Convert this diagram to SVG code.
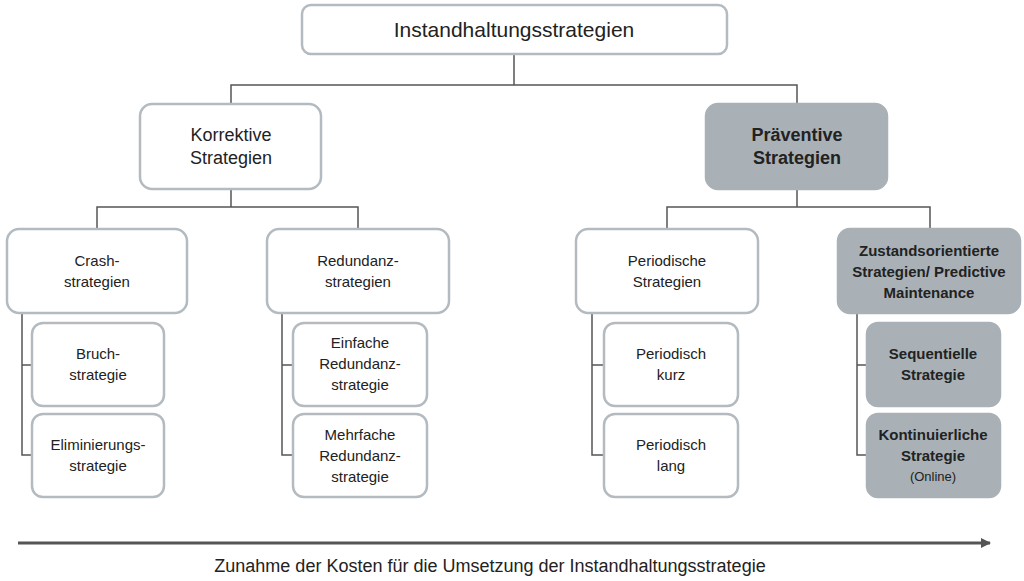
<svg xmlns="http://www.w3.org/2000/svg" width="1024" height="581" viewBox="0 0 1024 581">
<style>
.w{fill:#fff;stroke:#b3bbc0;stroke-width:2.5}
.g{fill:#a9b1b6;stroke:#a9b1b6;stroke-width:2.5}
text{font-family:"Liberation Sans",Arial,sans-serif;fill:#222;text-anchor:middle}
.t{font-size:15px}
.b{font-size:15px;font-weight:bold}
.c{fill:none;stroke:#555;stroke-width:1.5}
</style>
<defs><marker id="ah" markerWidth="10" markerHeight="10" refX="9" refY="5" orient="auto" markerUnits="userSpaceOnUse"><path d="M0,0 L10,5 L0,10 Z" fill="#555"/></marker></defs>
<g id="connectors" class="c">
<path d="M514,54 V85 M231,104 V85 H797 V104"/>
<path d="M231,189 V207 M97,229 V207 H358 V229"/>
<path d="M797,189 V207 M667,229 V207 H930 V229"/>
<path d="M22,313 V455 H32 M22,365 H32"/>
<path d="M282,313 V455 H293 M282,365 H293"/>
<path d="M592,313 V455 H604 M592,365 H604"/>
<path d="M857,313 V455 H867 M857,365 H867"/>
<path d="M18,543 H990" stroke-width="3" marker-end="url(#ah)"/>
</g>
<g id="root"><rect class="w" x="302" y="5" width="425" height="49" rx="9"/><text x="514" y="37" style="font-size:21px">Instandhaltungsstrategien</text></g>
<g id="korrektiv"><rect class="w" x="140" y="104" width="181" height="85" rx="12"/><text x="231" y="141" style="font-size:18px">Korrektive</text><text x="231" y="164" style="font-size:18px">Strategien</text></g>
<g id="praeventiv"><rect class="g" x="706" y="104" width="181" height="85" rx="12"/><text x="797" y="141" style="font-size:18px;font-weight:bold">Präventive</text><text x="797" y="164" style="font-size:18px;font-weight:bold">Strategien</text></g>
<g id="crash"><rect class="w" x="7" y="229" width="180" height="84" rx="12"/><text class="t" x="97" y="266">Crash-</text><text class="t" x="97" y="287">strategien</text></g>
<g id="redundanz"><rect class="w" x="267" y="229" width="182" height="84" rx="12"/><text class="t" x="358" y="266">Redundanz-</text><text class="t" x="358" y="287">strategien</text></g>
<g id="periodisch"><rect class="w" x="576" y="229" width="182" height="84" rx="12"/><text class="t" x="667" y="266">Periodische</text><text class="t" x="667" y="287">Strategien</text></g>
<g id="zustand"><rect class="g" x="838" y="229" width="182" height="84" rx="12"/><text class="b" x="929" y="256">Zustandsorientierte</text><text class="b" x="929" y="277">Strategien/ Predictive</text><text class="b" x="929" y="298">Maintenance</text></g>
<g id="bruch"><rect class="w" x="32" y="323" width="132" height="83" rx="11"/><text class="t" x="98" y="359">Bruch-</text><text class="t" x="98" y="380">strategie</text></g>
<g id="elim"><rect class="w" x="32" y="414" width="132" height="83" rx="11"/><text class="t" x="98" y="450">Eliminierungs-</text><text class="t" x="98" y="471">strategie</text></g>
<g id="einfach"><rect class="w" x="293" y="323" width="134" height="83" rx="11"/><text class="t" x="360" y="348">Einfache</text><text class="t" x="360" y="369">Redundanz-</text><text class="t" x="360" y="390">strategie</text></g>
<g id="mehrfach"><rect class="w" x="293" y="414" width="134" height="83" rx="11"/><text class="t" x="360" y="440">Mehrfache</text><text class="t" x="360" y="461">Redundanz-</text><text class="t" x="360" y="482">strategie</text></g>
<g id="kurz"><rect class="w" x="604" y="323" width="134" height="83" rx="11"/><text class="t" x="671" y="359">Periodisch</text><text class="t" x="671" y="380">kurz</text></g>
<g id="lang"><rect class="w" x="604" y="414" width="134" height="83" rx="11"/><text class="t" x="671" y="450">Periodisch</text><text class="t" x="671" y="471">lang</text></g>
<g id="seq"><rect class="g" x="867" y="323" width="133" height="83" rx="11"/><text class="b" x="933" y="359">Sequentielle</text><text class="b" x="933" y="380">Strategie</text></g>
<g id="kont"><rect class="g" x="867" y="414" width="133" height="83" rx="11"/><text class="b" x="933" y="440">Kontinuierliche</text><text class="b" x="933" y="461">Strategie</text><text x="933" y="481" style="font-size:13px">(Online)</text></g>
<text x="490" y="572" style="font-size:18px">Zunahme der Kosten für die Umsetzung der Instandhaltungsstrategie</text>
</svg>
